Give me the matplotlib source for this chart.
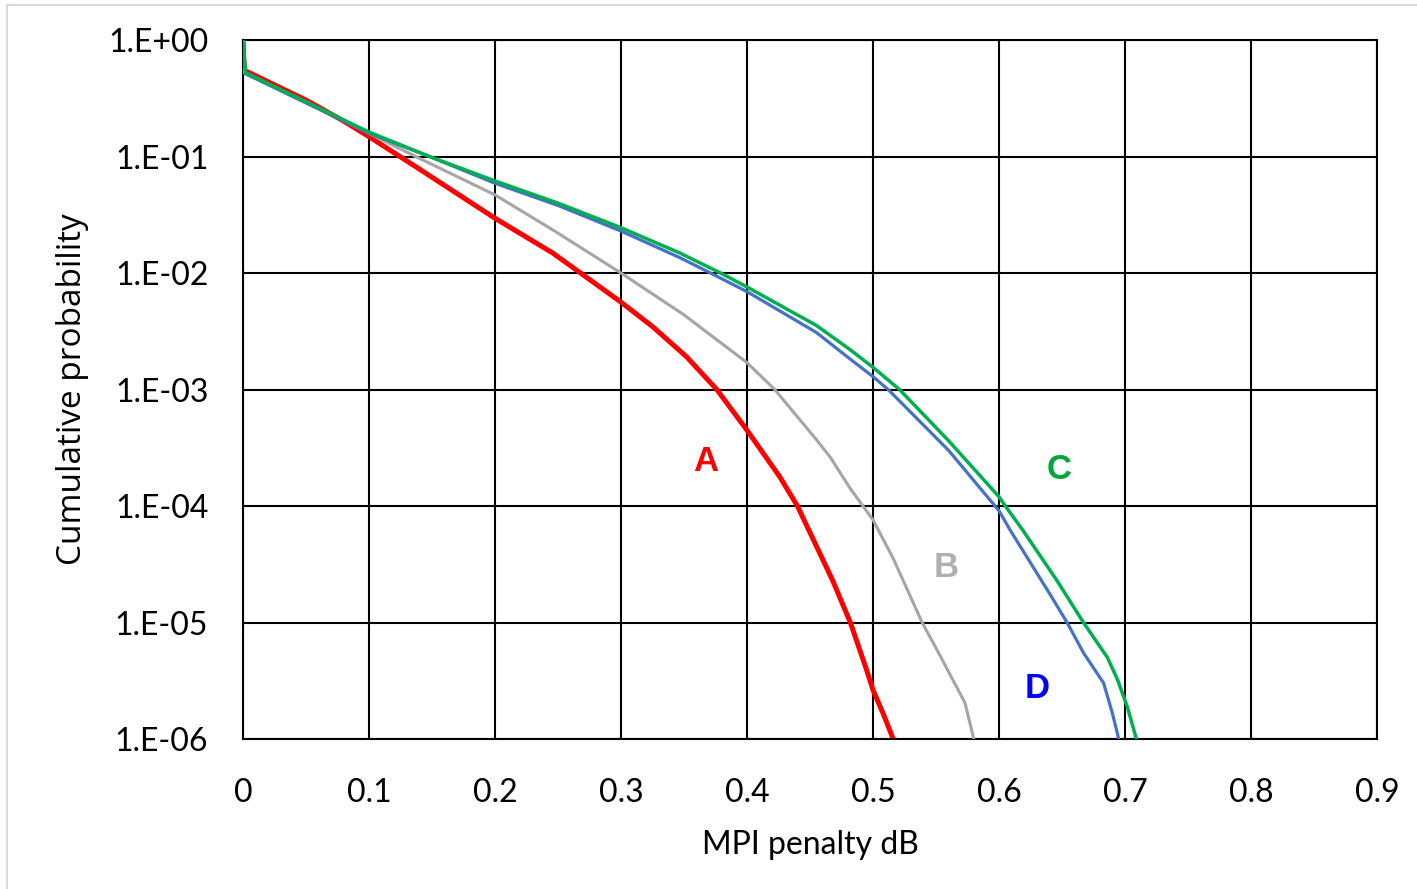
import numpy as np
import matplotlib.pyplot as plt
from matplotlib.patches import Rectangle

# curve A (red)
a_x = [0, 0.001, 0.05, 0.079, 0.1, 0.14, 0.2, 0.246, 0.3, 0.325,
       0.352, 0.376, 0.4, 0.426, 0.44, 0.468, 0.482, 0.495, 0.5, 0.508, 0.516]
a_p = [1, 0.55, 0.305, 0.204, 0.148, 0.078, 0.0295, 0.0148, 0.00562,
       0.00347, 0.00191, 0.001, 4.47e-4, 1.78e-4, 1.0e-4, 2.29e-5, 1.0e-5, 3.89e-6,
       2.63e-6, 1.66e-6, 1.0e-6]

# curve B (grey)
b_x = [0, 0.001, 0.05, 0.1, 0.137, 0.2, 0.246, 0.3, 0.35, 0.4, 0.422, 0.455,
       0.466, 0.482, 0.5, 0.516, 0.539, 0.552, 0.573, 0.58]
b_p = [1, 0.52, 0.295, 0.158, 0.10, 0.0468, 0.0234, 0.010, 0.00437, 0.0017, 0.001,
       3.72e-4, 2.63e-4, 1.41e-4, 7.6e-5, 3.55e-5, 1.0e-5, 5.5e-6, 2.04e-6, 1.0e-6]

# curve C (green)
c_x = [0, 0.002, 0.05, 0.1, 0.148, 0.2, 0.25, 0.3, 0.347, 0.379, 0.4, 0.455,
       0.482, 0.5, 0.521, 0.56, 0.6, 0.605, 0.619, 0.646, 0.667, 0.686, 0.694,
       0.702, 0.709]
c_p = [1, 0.525, 0.295, 0.162, 0.10, 0.0617, 0.0398, 0.0245, 0.0148, 0.010,
       0.00759, 0.00355, 0.00219, 0.00155, 0.001, 3.63e-4, 1.2e-4, 1.0e-4,
       6.17e-5, 2.29e-5, 1.0e-5, 5.01e-6, 3.24e-6, 1.86e-6, 1.0e-6]

# curve D (blue)
d_x = [0, 0.002, 0.05, 0.1, 0.148, 0.2, 0.25, 0.3, 0.347, 0.371, 0.4, 0.455,
       0.482, 0.5, 0.512, 0.56, 0.6, 0.609, 0.64, 0.654, 0.667, 0.683, 0.69, 0.695]
d_p = [1, 0.513, 0.288, 0.158, 0.10, 0.0589, 0.038, 0.0229, 0.0135, 0.010,
       0.00692, 0.00309, 0.00182, 0.00129, 0.001, 3.0e-4, 9.1e-5, 6.17e-5,
       1.78e-5, 1.0e-5, 5.5e-6, 3.02e-6, 1.66e-6, 1.0e-6]

x_ticks = [0, 0.1, 0.2, 0.3, 0.4, 0.5, 0.6, 0.7, 0.8, 0.9]
x_labels = ['0', '0.1', '0.2', '0.3', '0.4', '0.5', '0.6', '0.7', '0.8', '0.9']
y_ticks = [1e-6, 1e-5, 1e-4, 1e-3, 1e-2, 1e-1, 1]
y_labels = ['1.E-06', '1.E-05', '1.E-04', '1.E-03', '1.E-02', '1.E-01', '1.E+00']

# name, x, y of the curve labels
tags = [('A', 0.367, 2.4e-4, '#FF0000'),
        ('B', 0.558, 2.95e-5, '#B0B0B0'),
        ('C', 0.648, 2.05e-4, '#00A53C'),
        ('D', 0.630, 2.7e-6, '#0000FF')]

fig = plt.figure(figsize=(14.17, 8.89), dpi=100)
ax = fig.add_axes([0.1715, 0.1687, 0.8003, 0.7863])

ax.plot(b_x, b_p, color='#A5A5A5', lw=2.2, zorder=3)
ax.plot(d_x, d_p, color='#4472C4', lw=2.3, zorder=4)
ax.plot(c_x, c_p, color='#00B050', lw=2.5, zorder=5)
ax.plot(a_x, a_p, color='#FF0000', lw=3.6, zorder=2)

ax.set_yscale('log')
ax.set_xlim(0, 0.9)
ax.set_ylim(1e-6, 1)
ax.set_xticks(x_ticks)
ax.set_xticklabels(x_labels)
ax.set_yticks(y_ticks)
ax.set_yticklabels(y_labels)
ax.minorticks_off()
ax.tick_params(length=0, labelsize=23, labelfontfamily='Lato')
ax.tick_params(axis='y', pad=25)
ax.tick_params(axis='x', pad=28)
ax.grid(True, color='black', lw=1.5)
ax.set_axisbelow(True)
for s in ax.spines.values():
    s.set_linewidth(1.5)

ax.set_xlabel('MPI penalty dB', fontsize=23, family='Lato', labelpad=16)
ax.set_ylabel('Cumulative probability', fontsize=24, family='Open Sans', labelpad=14)

for t, x, y, col in tags:
    ax.text(x, y, t, color=col, fontsize=25, fontweight='bold',
            family='Liberation Sans', ha='center', va='center', zorder=6)

# light chart border (top/left edges only are visible)
fig.patches.append(Rectangle((7 / 1417, -0.2), 1.2, 1.2 - 5 / 889,
                             transform=fig.transFigure, fill=False,
                             edgecolor='#D9D9D9', lw=1.5))

fig.savefig('out.png', dpi=100)
